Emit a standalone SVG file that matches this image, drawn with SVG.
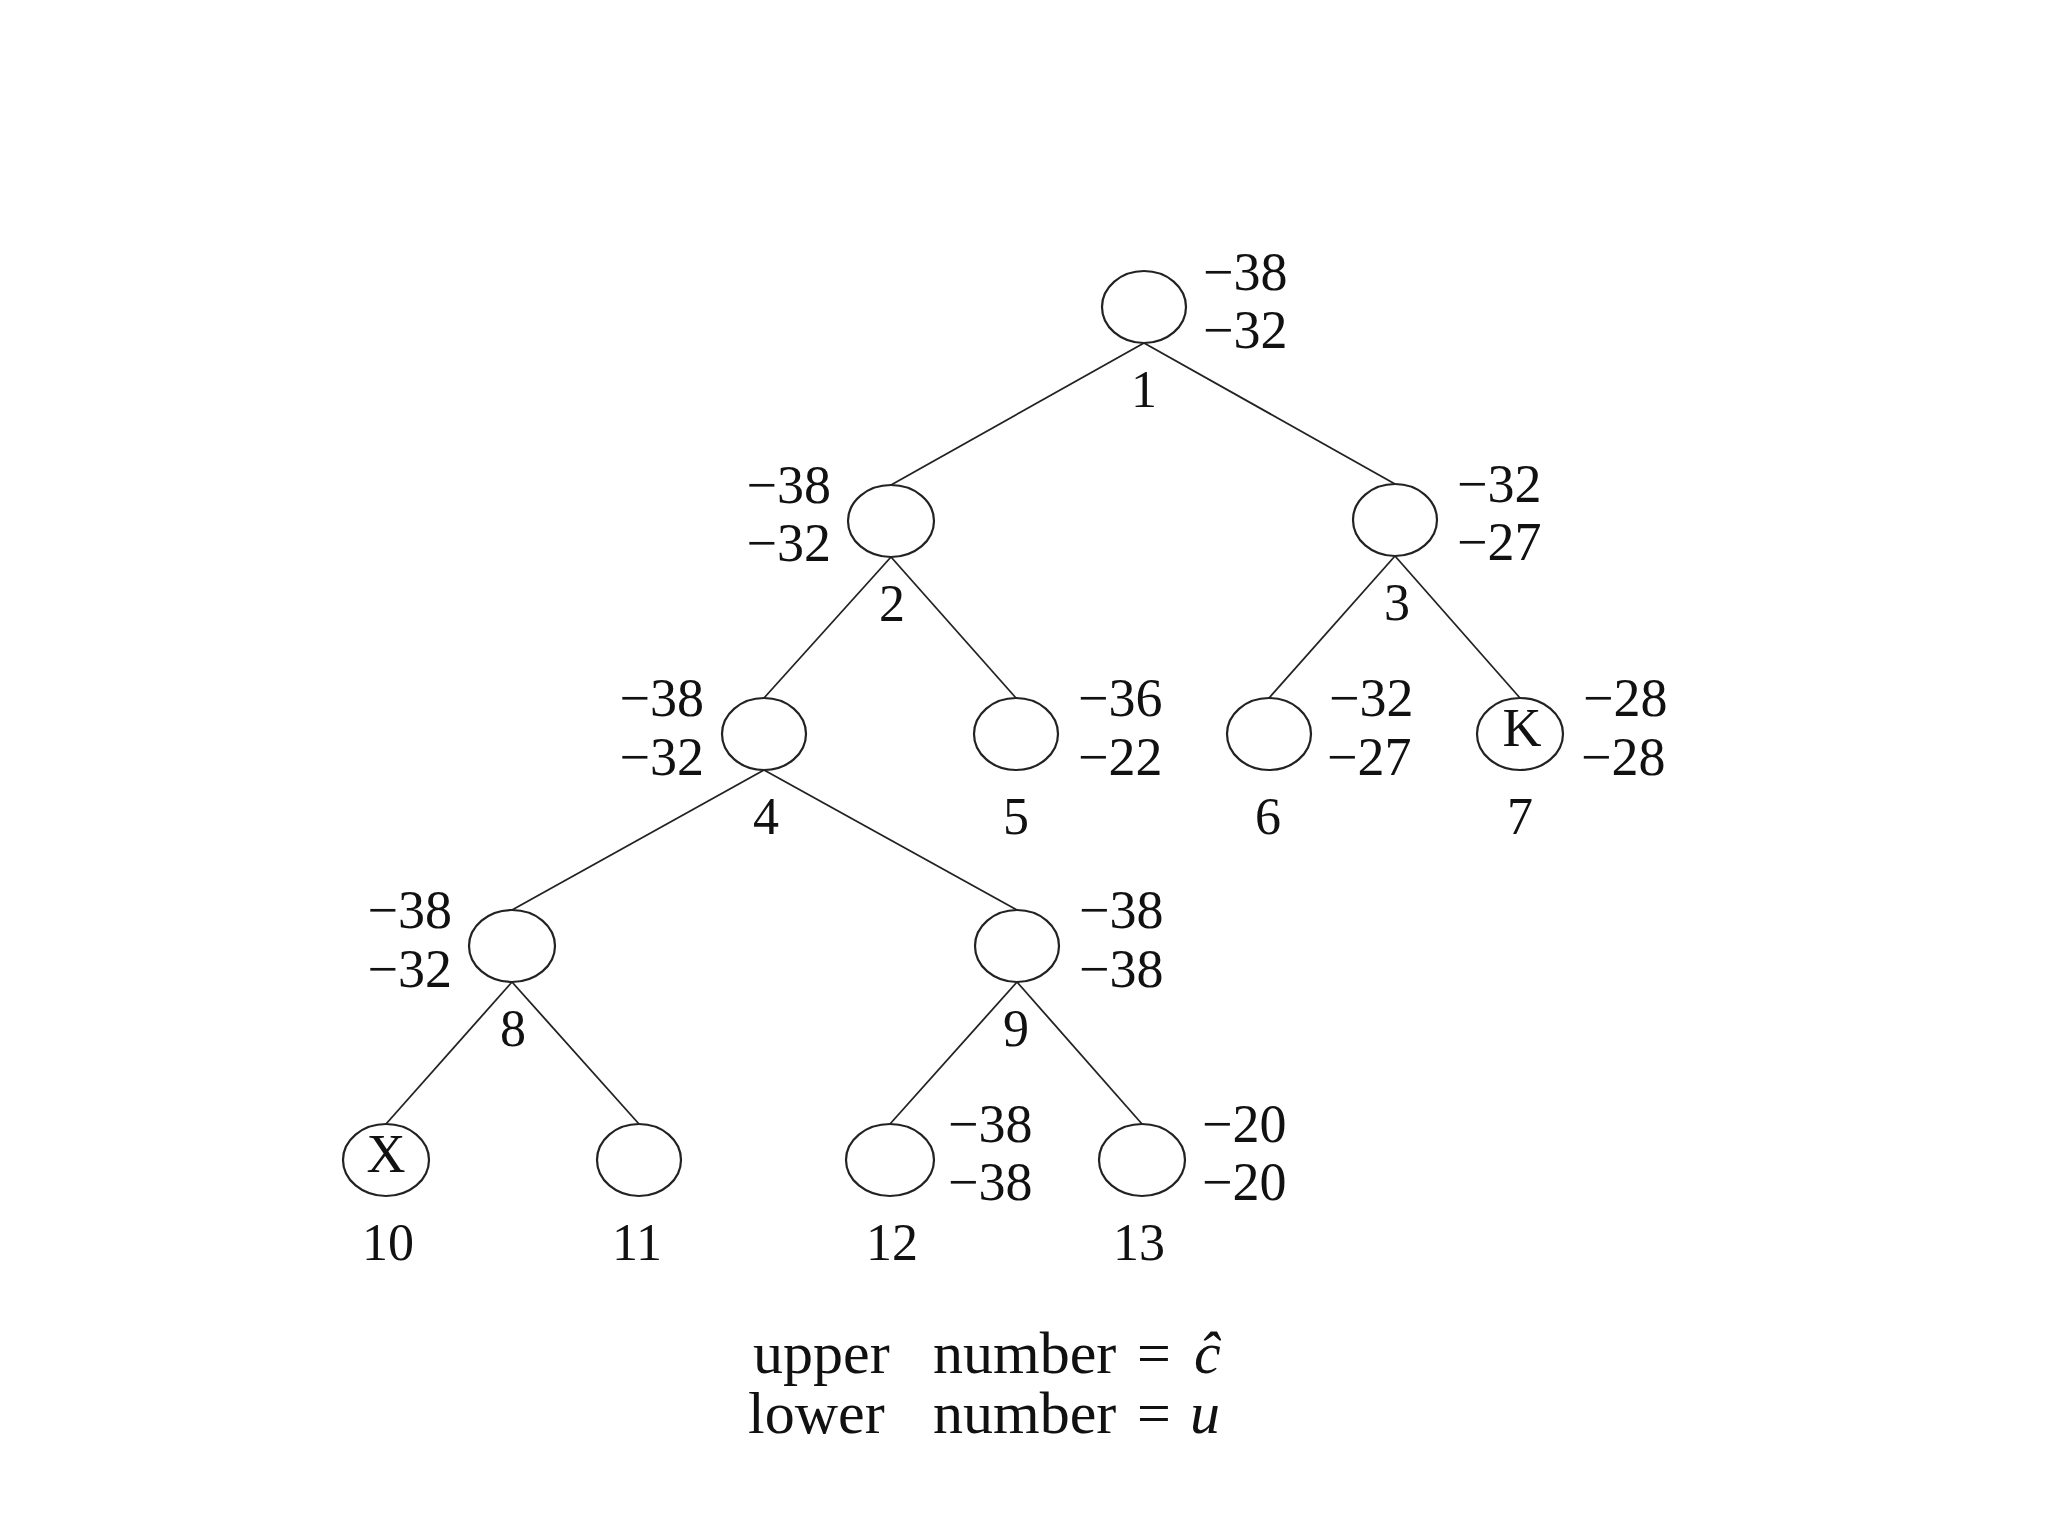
<svg xmlns="http://www.w3.org/2000/svg" width="2048" height="1536" viewBox="0 0 2048 1536">
<style>
.n{fill:none;stroke:#222;stroke-width:2.2}
.e{stroke:#222;stroke-width:1.8;fill:none}
text{font-family:"Liberation Serif","Times New Roman",serif;fill:#111}
.v{font-size:54px}
.r{text-anchor:start}
.l{text-anchor:end}
.id{font-size:52px;text-anchor:middle}
.in{font-size:54px;text-anchor:middle}
.lg{font-size:60px}
</style>
<rect width="2048" height="1536" fill="#fff"/>
<g id="connectors">
<line class="e" x1="1144" y1="343" x2="891" y2="485"/>
<line class="e" x1="1144" y1="343" x2="1395" y2="484"/>
<line class="e" x1="891" y1="557" x2="764" y2="698"/>
<line class="e" x1="891" y1="557" x2="1016" y2="698"/>
<line class="e" x1="1395" y1="556" x2="1269" y2="698"/>
<line class="e" x1="1395" y1="556" x2="1520" y2="698"/>
<line class="e" x1="764" y1="770" x2="512" y2="910"/>
<line class="e" x1="764" y1="770" x2="1017" y2="910"/>
<line class="e" x1="512" y1="982" x2="386" y2="1124"/>
<line class="e" x1="512" y1="982" x2="639" y2="1124"/>
<line class="e" x1="1017" y1="982" x2="890" y2="1124"/>
<line class="e" x1="1017" y1="982" x2="1142" y2="1124"/>
</g>
<g id="node1"><ellipse class="n" cx="1144" cy="307" rx="42" ry="36"/><text class="v r" x="1203" y="290">−38</text><text class="v r" x="1203" y="348">−32</text><text class="id" x="1144" y="407">1</text></g>
<g id="node2"><ellipse class="n" cx="891" cy="521" rx="43" ry="36"/><text class="v l" x="831" y="503">−38</text><text class="v l" x="831" y="561">−32</text><text class="id" x="892" y="621">2</text></g>
<g id="node3"><ellipse class="n" cx="1395" cy="520" rx="42" ry="36"/><text class="v r" x="1457" y="502">−32</text><text class="v r" x="1457" y="560">−27</text><text class="id" x="1397" y="620">3</text></g>
<g id="node4"><ellipse class="n" cx="764" cy="734" rx="42" ry="36"/><text class="v l" x="704" y="716">−38</text><text class="v l" x="704" y="775">−32</text><text class="id" x="766" y="834">4</text></g>
<g id="node5"><ellipse class="n" cx="1016" cy="734" rx="42" ry="36"/><text class="v r" x="1078" y="716">−36</text><text class="v r" x="1078" y="775">−22</text><text class="id" x="1016" y="834">5</text></g>
<g id="node6"><ellipse class="n" cx="1269" cy="734" rx="42" ry="36"/><text class="v r" x="1329" y="716">−32</text><text class="v r" x="1327" y="775">−27</text><text class="id" x="1268" y="834">6</text></g>
<g id="node7"><ellipse class="n" cx="1520" cy="734" rx="43" ry="36"/><text class="in" x="1522" y="746">K</text><text class="v r" x="1583" y="716">−28</text><text class="v r" x="1581" y="775">−28</text><text class="id" x="1520" y="834">7</text></g>
<g id="node8"><ellipse class="n" cx="512" cy="946" rx="43" ry="36"/><text class="v l" x="452" y="928">−38</text><text class="v l" x="452" y="987">−32</text><text class="id" x="513" y="1046">8</text></g>
<g id="node9"><ellipse class="n" cx="1017" cy="946" rx="42" ry="36"/><text class="v r" x="1079" y="928">−38</text><text class="v r" x="1079" y="987">−38</text><text class="id" x="1016" y="1046">9</text></g>
<g id="node10"><ellipse class="n" cx="386" cy="1160" rx="43" ry="36"/><text class="in" x="386" y="1172">X</text><text class="id" x="388" y="1260">10</text></g>
<g id="node11"><ellipse class="n" cx="639" cy="1160" rx="42" ry="36"/><text class="id" x="637" y="1260">11</text></g>
<g id="node12"><ellipse class="n" cx="890" cy="1160" rx="44" ry="36"/><text class="v r" x="948" y="1142">−38</text><text class="v r" x="948" y="1200">−38</text><text class="id" x="892" y="1260">12</text></g>
<g id="node13"><ellipse class="n" cx="1142" cy="1160" rx="43" ry="36"/><text class="v r" x="1202" y="1142">−20</text><text class="v r" x="1202" y="1200">−20</text><text class="id" x="1139" y="1260">13</text></g>
<g id="legend">
<text class="lg" x="753" y="1373">upper</text><text class="lg" x="933" y="1373">number</text><text class="lg" x="1137" y="1373">=</text><text class="lg" x="1194" y="1373" font-style="italic">ĉ</text>
<text class="lg" x="748" y="1433">lower</text><text class="lg" x="933" y="1433">number</text><text class="lg" x="1137" y="1433">=</text><text class="lg" x="1190" y="1433" font-style="italic">u</text>
</g>
</svg>
